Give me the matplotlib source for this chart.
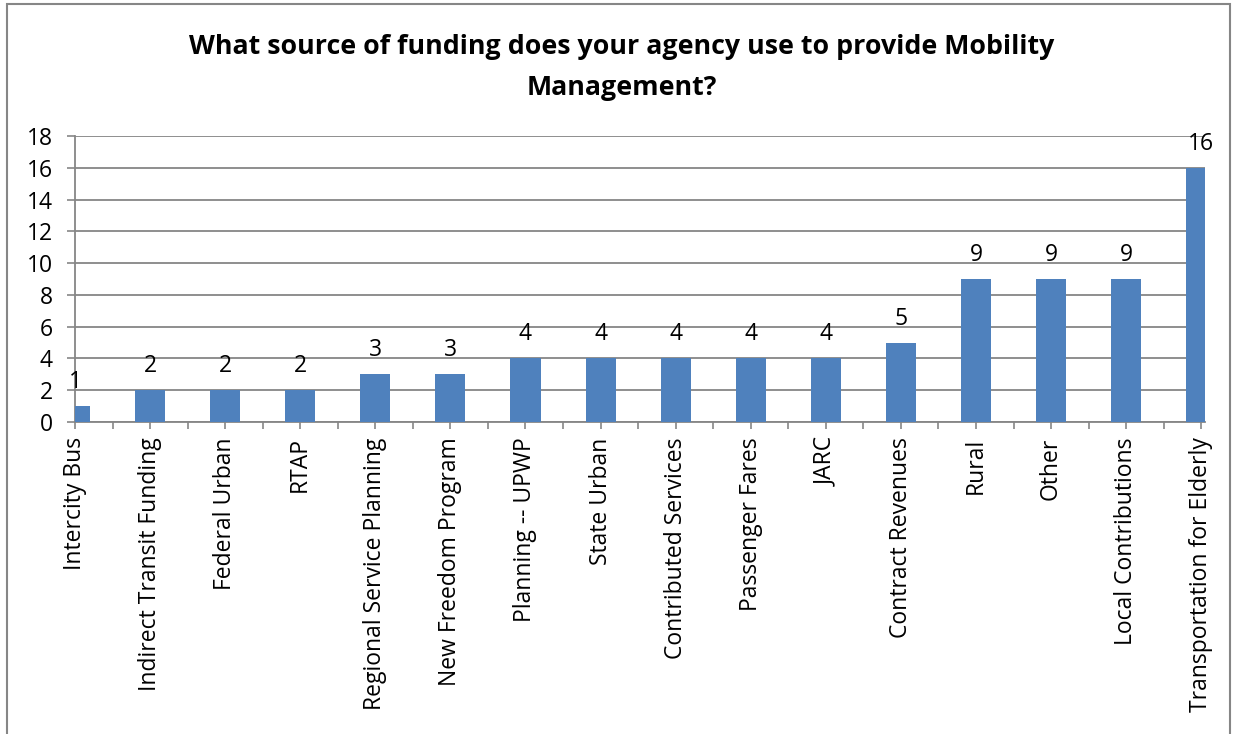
import numpy as np
import matplotlib.pyplot as plt
from matplotlib.patches import Rectangle
from matplotlib.ticker import MultipleLocator

plt.rcParams['font.family'] = ['Open Sans', 'DejaVu Sans']

sources = ['Intercity Bus', 'Indirect Transit Funding', 'Federal Urban', 'RTAP',
           'Regional Service Planning', 'New Freedom Program', 'Planning -- UPWP',
           'State Urban', 'Contributed Services', 'Passenger Fares', 'JARC',
           'Contract Revenues', 'Rural', 'Other', 'Local Contributions',
           'Transportation for Elderly']
counts = [1, 2, 2, 2, 3, 3, 4, 4, 4, 4, 4, 5, 9, 9, 9, 16]

grey = '#868686'
blue = '#4F81BD'

fig = plt.figure(figsize=(12.33, 7.34), dpi=100)
ax = fig.add_axes([75 / 1233, 1 - 422 / 734, 1130 / 1233, 286 / 734])

x = np.arange(len(sources))
bars = ax.bar(x, counts, width=0.4, color=blue, zorder=3)
for xi, v in zip(x, counts):
    ax.annotate(str(v), (xi, v), xytext=(0, 13), textcoords='offset points',
                ha='center', va='baseline', fontsize=16.5, zorder=4)

ax.set_xlim(0, 15.05)
ax.set_ylim(0, 18)
ax.yaxis.set_major_locator(MultipleLocator(2))
ax.grid(axis='y', color=grey, linewidth=1.3, zorder=0)

ax.set_xticks(x)
ax.set_xticklabels(sources, rotation=90, fontsize=16.5)
ax.set_xticks(x[:-1] + 0.5, minor=True)
ax.tick_params(axis='x', which='both', length=5, color=grey, width=1.2, pad=6)
ax.tick_params(axis='y', length=6, color=grey, width=1.2, labelsize=16.5, pad=10)

for side in ['top', 'right']:
    ax.spines[side].set_visible(False)
for side in ['left', 'bottom']:
    ax.spines[side].set_color(grey)
    ax.spines[side].set_linewidth(1.3)

fig.text(622 / 1233, 1 - 54 / 734, 'What source of funding does your agency use to provide Mobility',
         ha='center', va='baseline', fontsize=19.3, fontweight='bold')
fig.text(622 / 1233, 1 - 95 / 734, 'Management?',
         ha='center', va='baseline', fontsize=19.3, fontweight='bold')

fig.patches.append(Rectangle((7 / 1233, -0.01), 1223 / 1233, 1 - 4 / 734 + 0.01,
                             transform=fig.transFigure, fill=False,
                             edgecolor=grey, linewidth=1.5))

fig.savefig('out.png', dpi=100)
